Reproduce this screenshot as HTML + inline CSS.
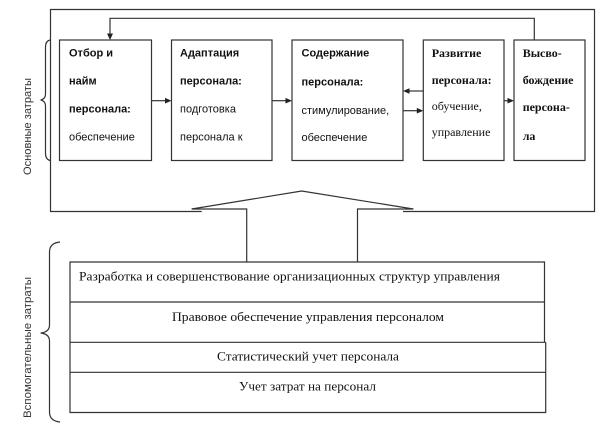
<!DOCTYPE html>
<html><head><meta charset="utf-8"><style>
html,body{margin:0;padding:0;background:#fff;}
svg{display:block;}
.s{font-family:"Liberation Sans","DejaVu Sans",sans-serif;font-size:11px;fill:#111;}
.b{font-weight:bold;}
.r{font-family:"Liberation Serif","DejaVu Serif",serif;font-size:12px;fill:#111;}
.t{font-family:"Liberation Serif","DejaVu Serif",serif;font-size:13px;fill:#111;}
.v{font-family:"Liberation Sans","DejaVu Sans",sans-serif;font-size:11px;fill:#333;}
</style></head><body>
<svg width="606" height="425" viewBox="0 0 606 425" xmlns="http://www.w3.org/2000/svg">
<g fill="none" stroke="#333" stroke-width="1.2">
  <!-- outer box with gap -->
  <polyline points="201.7,211.5 50.5,211.5 50.5,9.5 594.5,9.5 594.5,211.5 403,211.5"/>
  <!-- block arrow -->
  <polyline points="191.7,209 301.7,191 413.3,209"/>
  <polyline points="191.7,209 246.7,209 246.7,262"/>
  <polyline points="413.3,209 357.5,209 357.5,262"/>
  <!-- boxes -->
  <rect x="59.5" y="40" width="92" height="120.5"/>
  <rect x="171.5" y="40" width="100.5" height="120.5"/>
  <rect x="292" y="40" width="111" height="120.5"/>
  <rect x="423.3" y="40" width="80.7" height="120.5"/>
  <rect x="514" y="40" width="71" height="120.5"/>
  <!-- feedback line -->
  <polyline points="534.3,40 534.3,18.3 110,18.3 110,34"/>
  <!-- connectors -->
  <line x1="151.5" y1="100.7" x2="165.5" y2="100.7"/>
  <line x1="272" y1="100.7" x2="286" y2="100.7"/>
  <line x1="423.3" y1="91" x2="409" y2="91"/>
  <line x1="403" y1="110.7" x2="417.3" y2="110.7"/>
  <line x1="504" y1="100.7" x2="508" y2="100.7"/>
  <!-- lower table -->
  <polyline points="544.5,342.3 544.5,262 70,262 70,412.5 545.7,412.5 545.7,342.3"/>
  <line x1="70" y1="302" x2="544.5" y2="302"/>
  <line x1="70" y1="342.3" x2="545.7" y2="342.3"/>
  <line x1="70" y1="372.3" x2="545.7" y2="372.3"/>
  <!-- braces -->
  <path d="M50,40 Q45.5,41 45.5,47 L45.5,94 Q45.5,99 40.7,100 Q45.5,101 45.5,106 L45.5,153 Q45.5,159.5 50,160.5"/>
  <path d="M60,242 Q49.5,243 49.5,252 L49.5,325 Q49.5,332 40.7,333 Q49.5,334 49.5,341 L49.5,412 Q49.5,421 60,422"/>
</g>
<g fill="#222">
  <polygon points="110,40 107,33.5 113,33.5"/>
  <polygon points="171.5,100.7 165,97.9 165,103.5"/>
  <polygon points="292,100.7 285.5,97.9 285.5,103.5"/>
  <polygon points="403,91 409.5,88.2 409.5,93.8"/>
  <polygon points="423.3,110.7 416.8,107.9 416.8,113.5"/>
  <polygon points="514,100.7 507.5,97.9 507.5,103.5"/>
</g>
<!-- box 1 -->
<text class="s b" x="69" y="56.5">Отбор и</text>
<text class="s b" x="69" y="84.5">найм</text>
<text class="s b" x="69" y="112.5">персонала:</text>
<text class="s" x="69" y="140.5">обеспечение</text>
<!-- box 2 -->
<text class="s b" x="180" y="56.5">Адаптация</text>
<text class="s b" x="180" y="84.5">персонала:</text>
<text class="s" x="180" y="112.5">подготовка</text>
<text class="s" x="180" y="140.5">персонала к</text>
<!-- box 3 -->
<text class="s b" x="301.5" y="56.5">Содержание</text>
<text class="s b" x="301.5" y="85.5">персонала:</text>
<text class="s" x="301.5" y="114">стимулирование,</text>
<text class="s" x="301.5" y="141">обеспечение</text>
<!-- box 4 -->
<text class="r b" x="431.7" y="57">Развитие</text>
<text class="r b" x="431.7" y="84">персонала:</text>
<text class="r" x="431.7" y="110">обучение,</text>
<text class="r" x="431.7" y="136">управление</text>
<!-- box 5 -->
<text class="r b" x="522.7" y="57">Высво-</text>
<text class="r b" x="522.7" y="84">бождение</text>
<text class="r b" x="522.7" y="111">персона-</text>
<text class="r b" x="522.7" y="140">ла</text>
<!-- lower table -->
<text class="t" x="79" y="280.5" textLength="421" lengthAdjust="spacingAndGlyphs">Разработка и совершенствование организационных структур управления</text>
<text class="t" x="308" y="321" text-anchor="middle" textLength="272" lengthAdjust="spacingAndGlyphs">Правовое обеспечение управления персоналом</text>
<text class="t" x="308" y="360.5" text-anchor="middle" textLength="182" lengthAdjust="spacingAndGlyphs">Статистический учет персонала</text>
<text class="t" x="307.5" y="390.5" text-anchor="middle" textLength="137" lengthAdjust="spacingAndGlyphs">Учет затрат на персонал</text>
<!-- vertical labels -->
<text class="v" transform="translate(30.8,126.5) rotate(-90)" text-anchor="middle" textLength="97" lengthAdjust="spacingAndGlyphs">Основные затраты</text>
<text class="v" transform="translate(30.8,347.5) rotate(-90)" text-anchor="middle" textLength="141" lengthAdjust="spacingAndGlyphs">Вспомогательные затраты</text>
</svg>
</body></html>
